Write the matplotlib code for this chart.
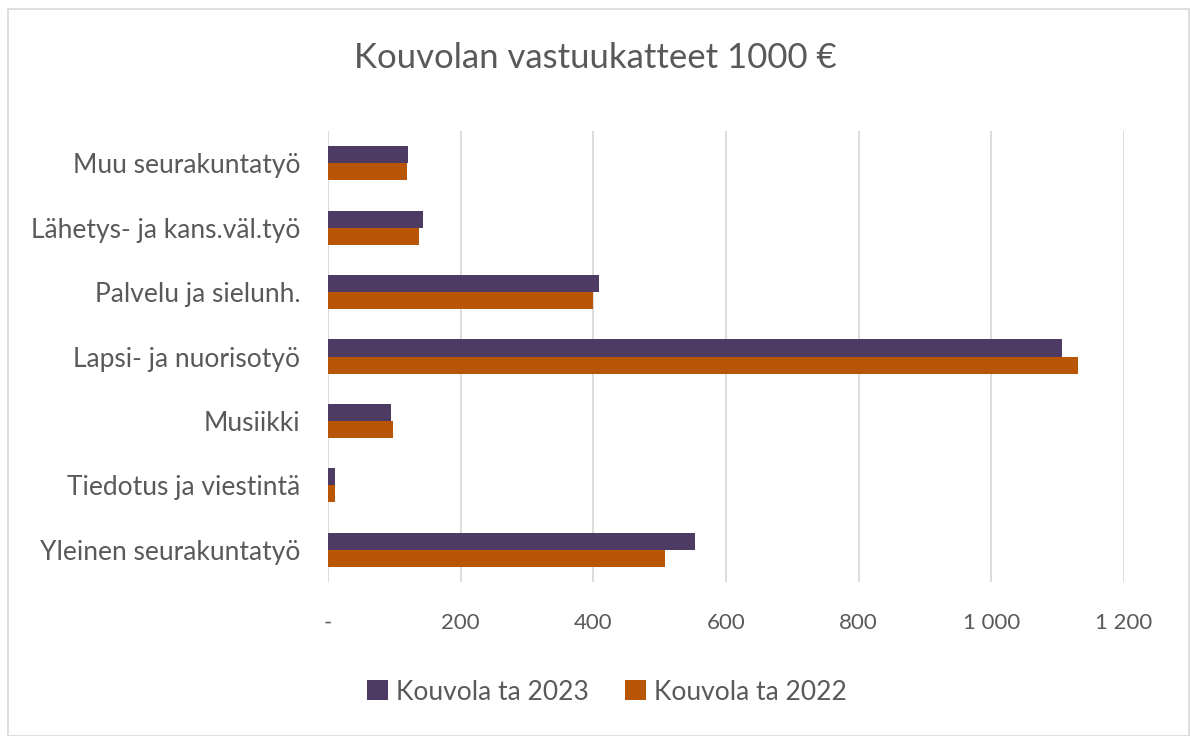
import matplotlib.pyplot as plt
import numpy as np
from matplotlib.patches import Rectangle

categories = ['Yleinen seurakuntatyö', 'Tiedotus ja viestintä', 'Musiikki',
              'Lapsi- ja nuorisotyö', 'Palvelu ja sielunh.',
              'Lähetys- ja kans.väl.työ', 'Muu seurakuntatyö']
ta_2023 = [553, 11, 95, 1107, 408, 143, 121]
ta_2022 = [508, 11, 98, 1131, 400, 137, 119]
xticks = [0, 200, 400, 600, 800, 1000, 1200]
xlabels = ['-', '200', '400', '600', '800', '1 000', '1 200']

plt.rcParams['font.family'] = ['Lato', 'DejaVu Sans']
txt = '#595959'
c23 = '#4E3B63'
c22 = '#B85606'

fig = plt.figure(figsize=(11.9, 7.36), dpi=100)
ax = fig.add_axes([328 / 1190, 1 - 582 / 736, (1124 - 328) / 1190, (582 - 131) / 736])

y = np.arange(len(categories))
h = 0.265
ax.barh(y + h / 2, ta_2023, height=h, color=c23, label='Kouvola ta 2023', zorder=3)
ax.barh(y - h / 2, ta_2022, height=h, color=c22, label='Kouvola ta 2022', zorder=3)

ax.set_xlim(0, 1200)
ax.set_ylim(-0.5, len(categories) - 0.5)
ax.set_yticks(y)
ax.set_yticklabels(categories, fontsize=19, color=txt)
ax.set_xticks(xticks)
ax.set_xticklabels(xlabels, fontsize=16, color=txt)
ax.tick_params(length=0, pad=22)
ax.tick_params(axis='y', pad=20)
ax.grid(axis='x', color='#d9d9d9', linewidth=1.3, zorder=0)
for s in ax.spines.values():
    s.set_visible(False)

fig.suptitle('Kouvolan vastuukatteet 1000 €', y=1 - 42 / 736, va='top',
             fontsize=25, color=txt)

leg = fig.legend(loc='center', bbox_to_anchor=(0.51, 1 - 692 / 736), ncol=2,
                 frameon=False, fontsize=19, handlelength=0.8, handleheight=0.8,
                 columnspacing=1.4, handletextpad=0.3)
for t in leg.get_texts():
    t.set_color(txt)

fig.patches.append(Rectangle((8 / 1190, 0), 1 - 9 / 1190, 1 - 9 / 736,
                             transform=fig.transFigure, fill=False,
                             edgecolor='#d9d9d9', linewidth=1.2))

fig.savefig('out.png', dpi=100)
